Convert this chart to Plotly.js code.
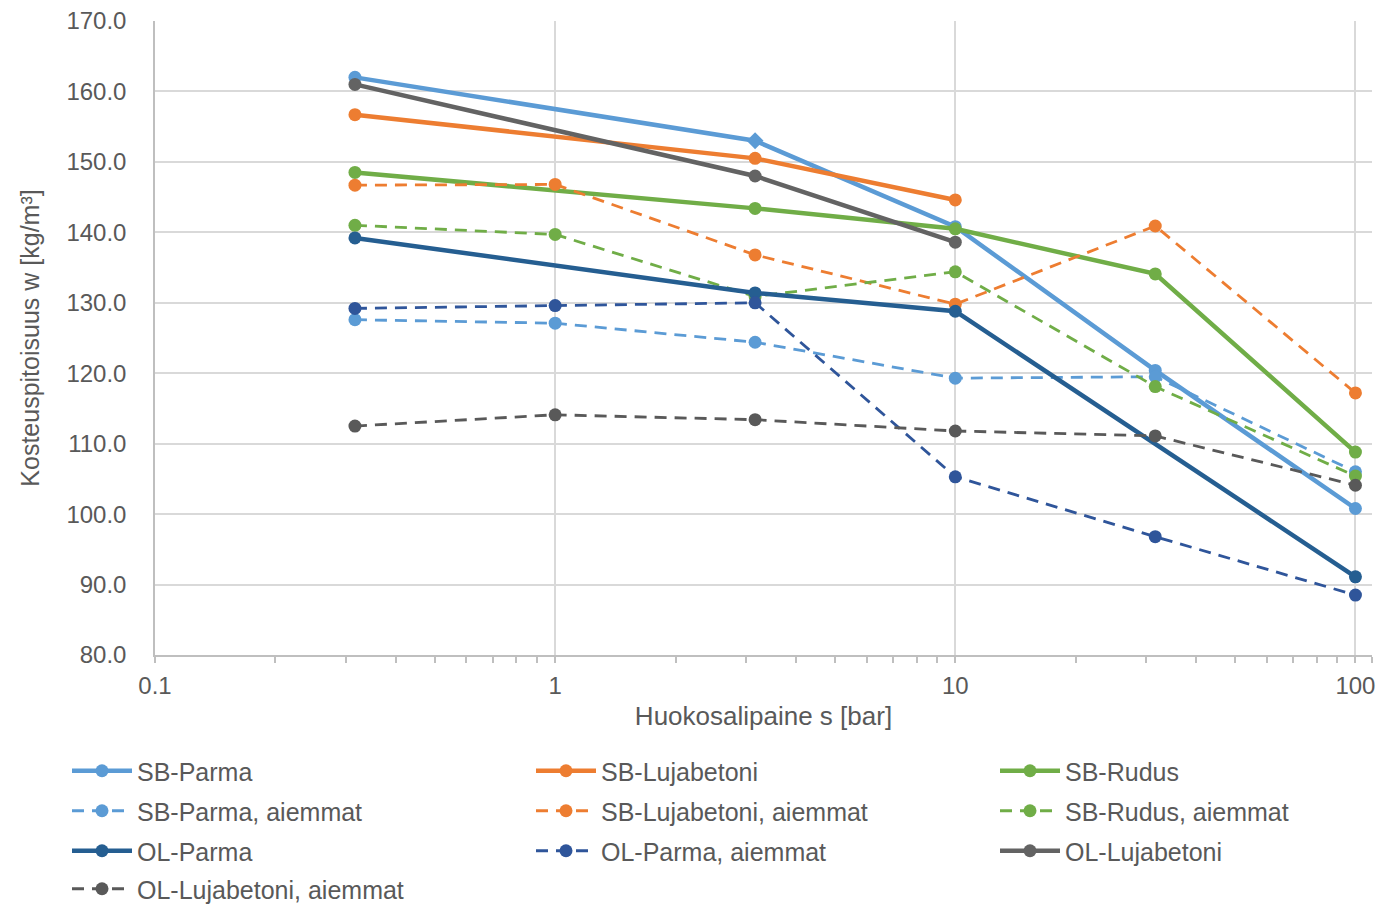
<!DOCTYPE html>
<html>
<head>
<meta charset="utf-8">
<script src="https://cdn.plot.ly/plotly-3.0.1.min.js"></script>
<style>html,body{margin:0;padding:0;background:#fff;}#chart{width:1384px;height:906px;}</style>
</head>
<body>
<div id="chart"></div>
<script>
// Suction pressure s [bar]
const suction = [0.316, 1, 3.16, 10, 31.6, 100];

// Moisture content w [kg/m3]
const sbParma        = [162.0, null, 153.0, 140.8, 120.4, 100.8];
const sbLujabetoni   = [156.7, null, 150.5, 144.6, null, null];
const sbRudus        = [148.5, null, 143.4, 140.5, 134.1, 108.8];
const sbParmaOld     = [127.6, 127.1, 124.4, 119.3, 119.5, 106.0];
const sbLujabetoniOld= [146.7, 146.8, 136.8, 129.8, 140.9, 117.2];
const sbRudusOld     = [141.0, 139.7, 130.9, 134.4, 118.1, 105.4];
const olParma        = [139.2, null, 131.4, 128.8, null, 91.1];
const olParmaOld     = [129.2, 129.6, 130.0, 105.3, 96.8, 88.5];
const olLujabetoni   = [161.0, null, 148.0, 138.6, null, null];
const olLujabetoniOld= [112.5, 114.1, 113.4, 111.8, 111.1, 104.1];

const seriesNames = [
  'SB-Parma', 'SB-Lujabetoni', 'SB-Rudus',
  'SB-Parma, aiemmat', 'SB-Lujabetoni, aiemmat', 'SB-Rudus, aiemmat',
  'OL-Parma', 'OL-Parma, aiemmat', 'OL-Lujabetoni',
  'OL-Lujabetoni, aiemmat'
];
const seriesValues = [
  sbParma, sbLujabetoni, sbRudus,
  sbParmaOld, sbLujabetoniOld, sbRudusOld,
  olParma, olParmaOld, olLujabetoni,
  olLujabetoniOld
];

// Axis ticks
const xTickVals = [0.1, 1, 10, 100];
const xTickText = ['0.1', '1', '10', '100'];
const xMinorVals = [0.2,0.3,0.4,0.5,0.6,0.7,0.8,0.9,2,3,4,5,6,7,8,9,20,30,40,50,60,70,80,90,110];

// Styles
const colors = ['#5B9BD5','#ED7D31','#70AD47','#5B9BD5','#ED7D31','#70AD47','#255E91','#2F559A','#636363','#595959'];
const dashed = [false,false,false,true,true,true,false,true,false,true];
const legendPos = [
  [67,771],[531,771],[995,771],
  [67,811],[531,811],[995,811],
  [67,851],[531,851],[995,851],
  [67,889]
];

const L = 155, R = 12, T = 21, B = 251, W = 1384, H = 906;

const traces = seriesNames.map((name, i) => {
  const symbols = seriesValues[i].map(() => 'circle');
  if (i === 0) symbols[2] = 'diamond';
  return {
    type: 'scatter',
    mode: 'lines+markers',
    name: name,
    x: suction,
    y: seriesValues[i],
    connectgaps: true,
    line: {color: colors[i], width: dashed[i] ? 2.8 : 4.5, dash: dashed[i] ? '12px,8px' : 'solid'},
    marker: {color: colors[i], size: 13, symbol: symbols},
    legend: i === 0 ? 'legend' : 'legend' + (i + 1),
    hoverinfo: 'x+y+name'
  };
});

const layout = {
  width: W, height: H,
  margin: {l: L, r: R, t: T, b: B, autoexpand: false},
  paper_bgcolor: '#ffffff',
  plot_bgcolor: '#ffffff',
  font: {family: '"Liberation Sans", Arial, sans-serif', color: '#595959', size: 24},
  showlegend: true,
  xaxis: {
    type: 'log',
    range: [-1, Math.log10(110)],
    tickmode: 'array',
    tickvals: xTickVals,
    ticktext: xTickText,
    ticks: 'outside', ticklen: 6, tickcolor: '#bfbfbf', tickwidth: 1.5,
    ticklabelstandoff: 2,
    minor: {tickmode: 'array', tickvals: xMinorVals, ticks: 'outside', ticklen: 6, tickcolor: '#bfbfbf', tickwidth: 1.5, showgrid: false},
    showgrid: true, gridcolor: '#d9d9d9', gridwidth: 2,
    showline: true, linecolor: '#bfbfbf', linewidth: 1.5,
    zeroline: false,
    tickfont: {size: 24, color: '#595959'},
    title: {text: 'Huokosalipaine s [bar]', font: {size: 26, color: '#595959'}, standoff: 9},
    automargin: false
  },
  yaxis: {
    range: [80, 170],
    dtick: 10,
    tick0: 80,
    tickformat: '.1f',
    ticks: '',
    ticklabelstandoff: 22,
    showgrid: true, gridcolor: '#d9d9d9', gridwidth: 1.5,
    showline: true, linecolor: '#bfbfbf', linewidth: 1.5,
    zeroline: false,
    tickfont: {size: 24, color: '#595959'},
    title: {text: 'Kosteuspitoisuus w [kg/m³]', font: {size: 25, color: '#595959'}, standoff: 20},
    automargin: false
  }
};

legendPos.forEach((p, i) => {
  const key = i === 0 ? 'legend' : 'legend' + (i + 1);
  layout[key] = {
    xref: 'container', yref: 'container',
    x: p[0] / W,
    y: 1 - p[1] / H,
    xanchor: 'left', yanchor: 'middle',
    orientation: 'h',
    bgcolor: 'rgba(0,0,0,0)',
    itemwidth: 60,
    font: {size: 25, color: '#595959'}
  };
});

Plotly.newPlot('chart', traces, layout, {displayModeBar: false, responsive: false});
</script>
</body>
</html>
